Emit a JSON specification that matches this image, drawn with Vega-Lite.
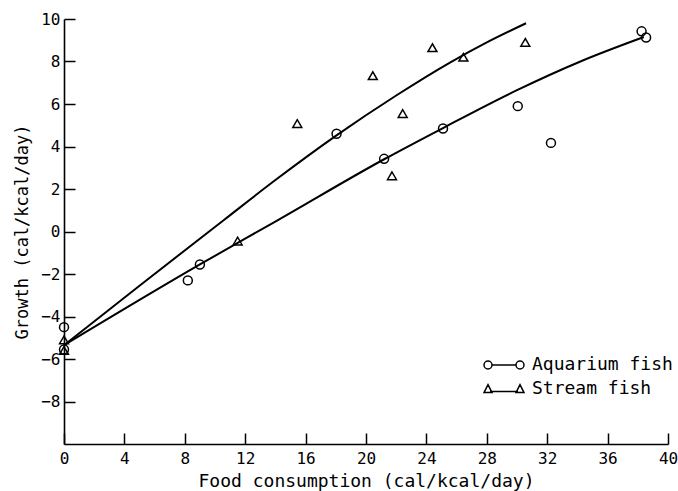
{
  "$schema": "https://vega.github.io/schema/vega-lite/v6.json",
  "width": 604,
  "height": 425,
  "autosize": {"type": "none"},
  "padding": {"left": 64, "top": 19, "right": 10, "bottom": 47},
  "background": "white",
  "config": {
    "view": {"stroke": null},
    "font": "DejaVu Sans Mono",
    "axis": {
      "domain": true,
      "domainColor": "black",
      "domainWidth": 1.6,
      "ticks": false,
      "tickSize": 0,
      "grid": true,
      "gridColor": "black",
      "gridWidth": 1.5,
      "gridOpacity": 1,
      "labelColor": "black",
      "titleColor": "black",
      "labelFont": "DejaVu Sans Mono",
      "titleFont": "DejaVu Sans Mono",
      "labelFontSize": 16,
      "titleFontSize": 18,
      "titleFontWeight": "normal"
    }
  },
  "datasets": {
    "curves": [
      {"series": "Aquarium fish", "x": 0, "y": -5.35},
      {"series": "Aquarium fish", "x": 9, "y": -1.55},
      {"series": "Aquarium fish", "x": 14.2, "y": 0.55},
      {"series": "Aquarium fish", "x": 21.2, "y": 3.4},
      {"series": "Aquarium fish", "x": 25.1, "y": 4.87},
      {"series": "Aquarium fish", "x": 30, "y": 6.65},
      {"series": "Aquarium fish", "x": 34.2, "y": 8.0},
      {"series": "Aquarium fish", "x": 38.4, "y": 9.15},
      {"series": "Stream fish", "x": 0, "y": -5.35},
      {"series": "Stream fish", "x": 5, "y": -2.55},
      {"series": "Stream fish", "x": 10.55, "y": 0.52},
      {"series": "Stream fish", "x": 14, "y": 2.42},
      {"series": "Stream fish", "x": 18, "y": 4.5},
      {"series": "Stream fish", "x": 22, "y": 6.4},
      {"series": "Stream fish", "x": 25.56, "y": 7.95},
      {"series": "Stream fish", "x": 28, "y": 8.9},
      {"series": "Stream fish", "x": 30.6, "y": 9.8}
    ],
    "pts": [
      {"series": "Aquarium fish", "x": 0, "y": -4.5},
      {"series": "Aquarium fish", "x": 0, "y": -5.55},
      {"series": "Aquarium fish", "x": 8.2, "y": -2.3},
      {"series": "Aquarium fish", "x": 9, "y": -1.55},
      {"series": "Aquarium fish", "x": 18.05, "y": 4.6},
      {"series": "Aquarium fish", "x": 21.2, "y": 3.42},
      {"series": "Aquarium fish", "x": 25.1, "y": 4.85},
      {"series": "Aquarium fish", "x": 30.05, "y": 5.9},
      {"series": "Aquarium fish", "x": 32.25, "y": 4.17},
      {"series": "Aquarium fish", "x": 38.25, "y": 9.42},
      {"series": "Aquarium fish", "x": 38.55, "y": 9.13},
      {"series": "Stream fish", "x": 0, "y": -5.1},
      {"series": "Stream fish", "x": 0, "y": -5.6},
      {"series": "Stream fish", "x": 11.5, "y": -0.45},
      {"series": "Stream fish", "x": 15.45, "y": 5.08},
      {"series": "Stream fish", "x": 20.45, "y": 7.33},
      {"series": "Stream fish", "x": 21.72, "y": 2.62},
      {"series": "Stream fish", "x": 22.43, "y": 5.55},
      {"series": "Stream fish", "x": 24.4, "y": 8.65},
      {"series": "Stream fish", "x": 26.45, "y": 8.2},
      {"series": "Stream fish", "x": 30.55, "y": 8.9}
    ]
  },
  "encoding": {
    "x": {
      "field": "x",
      "type": "quantitative",
      "scale": {"domain": [0, 40], "nice": false},
      "axis": {
        "title": "Food consumption (cal/kcal/day)",
        "values": [0, 4, 8, 12, 16, 20, 24, 28, 32, 36, 40],
        "gridDash": [0, 414, 11, 3000],
        "labelPadding": 6,
        "titlePadding": 6,
        "labelFlush": false
      }
    },
    "y": {
      "field": "y",
      "type": "quantitative",
      "scale": {"domain": [-10, 10], "nice": false},
      "axis": {
        "title": "Growth (cal/kcal/day)",
        "titleFontSize": 17,
        "values": [-8, -6, -4, -2, 0, 2, 4, 6, 8, 10],
        "gridDash": [11, 3000],
        "labelPadding": 4,
        "titlePadding": 9,
        "labelFlush": false
      }
    }
  },
  "layer": [
    {
      "data": {"name": "curves"},
      "mark": {"type": "line", "interpolate": "monotone", "strokeWidth": 2},
      "encoding": {
        "color": {
          "field": "series",
          "type": "nominal",
          "scale": {"domain": ["Aquarium fish", "Stream fish"], "range": ["black", "black"]},
          "legend": {
            "orient": "none",
            "legendX": 429,
            "legendY": 335,
            "title": null,
            "labelFont": "DejaVu Sans Mono",
            "labelFontSize": 18,
            "labelColor": "black",
            "labelOffset": 17,
            "rowPadding": 4,
            "symbolSize": 400,
            "symbolStrokeWidth": 1.5,
            "encode": {
              "symbols": {
                "update": {
                  "shape": {"signal": "datum.value === 'Aquarium fish' ? 'M-2,0A0.4,0.4,0,1,1,-1.2,0A0.4,0.4,0,1,1,-2,0M-1.2,0L1.2,0M1.2,0A0.4,0.4,0,1,1,2,0A0.4,0.4,0,1,1,1.2,0' : 'M-2,0.36L-1.6,-0.44L-1.2,0.36ZM-1.4,0.24L1.4,0.24M1.2,0.36L1.6,-0.44L2,0.36Z'"},
                  "fill": {"value": "transparent"},
                  "stroke": {"value": "black"},
                  "strokeWidth": {"value": 1.5}
                }
              }
            }
          }
        }
      }
    },
    {
      "data": {"name": "pts"},
      "transform": [{"filter": "datum.series === 'Aquarium fish'"}],
      "mark": {"type": "point", "shape": "circle", "filled": false, "color": "black", "strokeWidth": 1.5, "size": 80, "opacity": 1}
    },
    {
      "data": {"name": "pts"},
      "transform": [{"filter": "datum.series === 'Stream fish'"}],
      "mark": {"type": "point", "shape": "triangle-up", "filled": false, "color": "black", "strokeWidth": 1.5, "size": 80, "opacity": 1}
    }
  ]
}
